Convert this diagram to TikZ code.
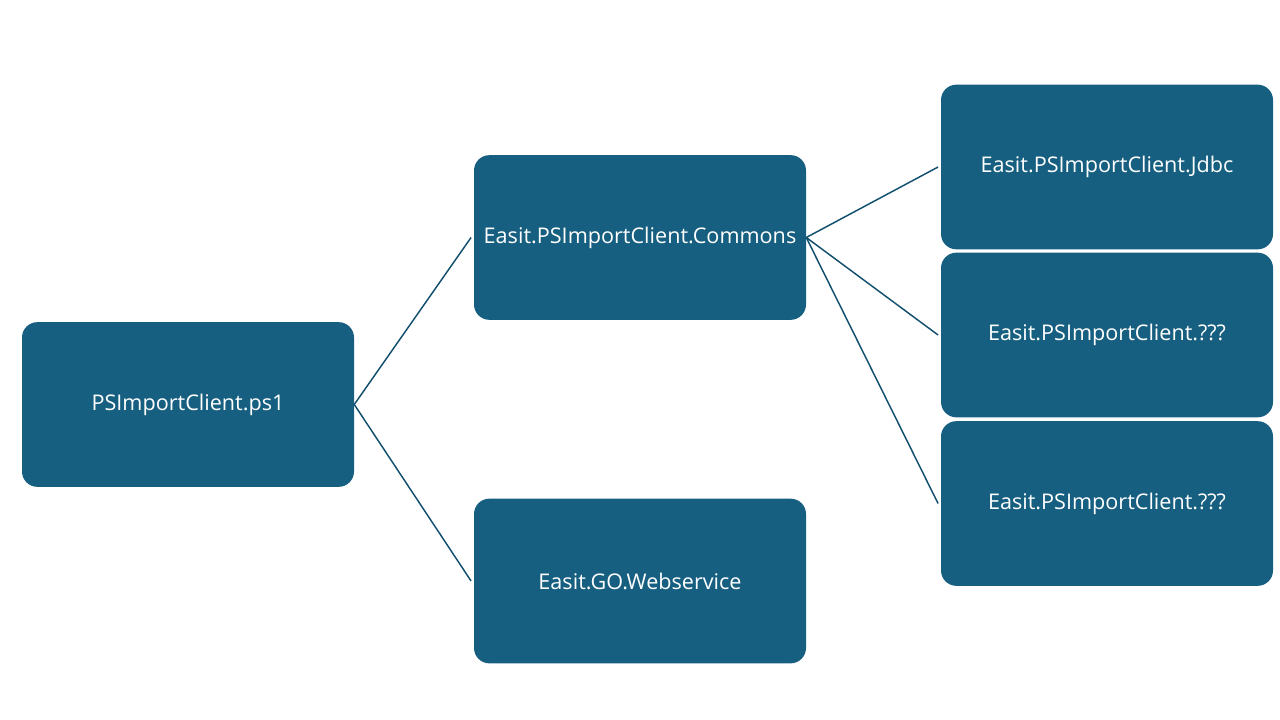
\documentclass[tikz,border=0pt]{standalone}
\usepackage{fontspec}
\setmainfont{Open Sans}
\definecolor{boxfill}{HTML}{165F80}
\definecolor{linecol}{HTML}{12506E}
\begin{document}
\begin{tikzpicture}[x=0.75pt,y=-0.75pt,
  box/.style={draw=none,fill=boxfill,rounded corners=11.5pt,minimum width=249pt,minimum height=123.5pt,inner sep=0pt,text=white,font=\fontsize{16.2}{19}\selectfont},
  conn/.style={draw=linecol,line width=1.1pt}]
\useasboundingbox (0,0) rectangle (1280,720);
\node[box] (ps1) at (188,404.5) {PSImportClient.ps1};
\node[box] (com) at (640,237.5) {Easit.PSImportClient.Commons};
\node[box] (web) at (640,581) {Easit.GO.Webservice};
\node[box] (jdbc) at (1107,167) {Easit.PSImportClient.Jdbc};
\node[box] (q1) at (1107,335) {Easit.PSImportClient.???};
\node[box] (q2) at (1107,503.5) {Easit.PSImportClient.???};
\draw[conn] (ps1.east) -- ([xshift=-2]com.west);
\draw[conn] (ps1.east) -- ([xshift=-2]web.west);
\draw[conn] (com.east) -- ([xshift=-2]jdbc.west);
\draw[conn] (com.east) -- ([xshift=-2]q1.west);
\draw[conn] (com.east) -- ([xshift=-2]q2.west);
\end{tikzpicture}
\end{document}
